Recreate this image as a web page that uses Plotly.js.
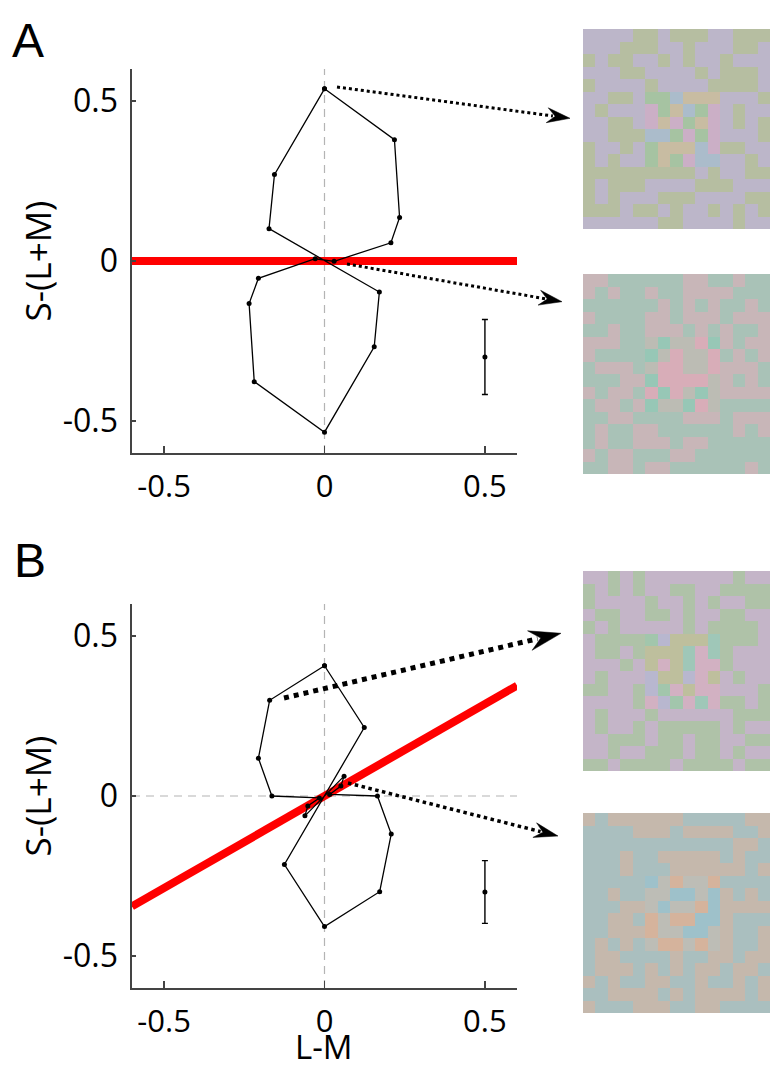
<!DOCTYPE html>
<html><head><meta charset="utf-8">
<script src="https://cdn.plot.ly/plotly-3.0.1.min.js"></script>
<style>html,body{margin:0;padding:0;background:#fff}</style>
</head><body><div id="chart" style="width:770px;height:1070px"></div>
<script>
// ---------- data ----------
const loopA_LM = [0, 0.218, 0.234, 0.207, 0.030, -0.029, -0.206, -0.235, -0.219, 0, 0.155, 0.171, -0.173, -0.156, 0];
const loopA_S  = [0.538, 0.379, 0.136, 0.057, -0.001, 0.007, -0.054, -0.133, -0.377, -0.535, -0.268, -0.097, 0.101, 0.270, 0.538];
const loopB_LM = [0, 0.124, -0.125, 0, 0.172, 0.208, 0.165, 0.016, 0.051, 0.061, -0.061, -0.052, -0.016, -0.164, -0.206, -0.171, 0];
const loopB_S  = [0.407, 0.214, -0.214, -0.408, -0.299, -0.119, 0, 0.005, 0.031, 0.062, -0.062, -0.031, -0.006, 0, 0.118, 0.299, 0.407];
const errA_x = [0.5], errA_y = [-0.30], errA_e = [0.117];
const errB_x = [0.5], errB_y = [-0.30], errB_e = [0.098];
const redA_x = [-0.6, 0.6], redA_y = [0, 0];
const redB_x = [-0.6, 0.6], redB_y = [-0.345, 0.345];
const zeroSpan = [-0.6, 0.6], zeroPair = [0, 0];
const tickVals = [-0.5, 0, 0.5];
const tickText = ['-0.5', '0', '0.5'];
const xTitle = 'L-M', yTitle = 'S-(L+M)';

const patchA1 = ["PPPPGGPGGGPPGGG","PPPGGGPPGPPPGGP","GPGGPPGPGPPGPPP","PPPGGPPPPGPGGGP",
"GPPPPGPPPPGGGGP","PPGGPggbtttPPPG","PGPPPpgtbgpPGPP","PPGGPptpgtpPGPG","PPGGGbbgpgpPPPG",
"GPPGPgtttbpGGPP","GPGPPgtgpbbPPGP","GGGGGGGGGPGPPGG","GPGGGPPPPGGGPPP","GPGPPPGGGPPPPGG",
"GGGPGGPGPPGPGPG","PPPPPPGGPPPPGPP"];
const palA1 = {P:'#bcb6c9', G:'#b6bea1', g:'#a6c3a2', b:'#abbccb', t:'#c8bca2', p:'#cbafc6'};
const patchA2 = ["RRTTTTTTRRTTRTT","RTRTTRTTRRRRTTT","TTTTTTRTRTRTTRT","RTTTTRRTRRRTRRR",
"TTRTTRRRTRTRTTR","RRRTTsqsskqRTRR","RTTTTqsksskTRTR","TRRRTskksskRRRT","TTTRRqkkkksRTRT",
"RTRRTkqksqsRRRR","TRRTRqssqksTTTT","TTRRTTTTRRRTRRR","TRTTRRTTTTTTRTR","TRTTRRRTRRTTTTT",
"RTRRTTTRRTTTTTT","TTRRTRRTTTTTTRT"];
const palA2 = {R:'#c8b6b8', T:'#a9c2b7', s:'#bcbcb4', q:'#97c7b6', k:'#d8adb8'};
const patchB1 = ["MMVMVMMMMMMMVMM","VMVMVMMVVMMVVVV","VMMMMVMMVMVMMVV","MVVMMVVMVMMVVMM",
"VMVMMMMMVMVVVVM","MVVVVgloootVVVM","MVVMVoootptVMMM","MMMVMopotppVMMM","MVMMMloolpoMVMM",
"VVMMVlgpoppMMMV","MMMMVplgptpVVMV","MVMMMVMMMMMMVVV","MVMMVMVVVVVMVMM","MMVVVMVVMVVMMVV",
"MMVMMVVVMVVMVMM","VVMVVVVMVVVVMVV"];
const palB1 = {M:'#c4b5c8', V:'#afc2a8', g:'#a2c6ac', l:'#b8b7cf', o:'#bebf9d', p:'#d2b1c2', t:'#9fc7b8'};
const patchB2 = ["NKNNNNNNKKKKKNN","KKKKNNNKNNNNKKN","KKKKKKKKKKKKNNK","KKKNKKNNNNNKNKK",
"KKKNKKKNNNNNNKN","KKKKKcsossoKKKK","KKNKKssccscNKNK","KKKNNscssocNNNN","KKNNKosooccNKKK",
"KKNNNossccsNKKN","KNKNKsoososNKKN","KNNKKKKNKKNNKNN","KNNNKNKNKNNKNNK","NKNKKNNKKNKKNKN",
"KKNNNNKNKNNNNKN","NKKKNNNKKNNKKKK"];
const palB2 = {K:'#aabfbf', N:'#c5b8ac', c:'#9ec1ca', s:'#bdbdb6', o:'#d5b39c'};

// ---------- helpers ----------
const W = 770, H = 1070;
const PX = x => x / W, PY = y => 1 - y / H;

function patchTrace(grid, pal, xa, ya) {
  const keys = Object.keys(pal);
  const z = grid.map(r => r.split('').map(c => keys.indexOf(c)));
  const n = keys.length;
  const cs = keys.map((k, i) => [i / (n - 1), pal[k]]);
  return {type:'heatmap', z:z, colorscale:cs, zmin:0, zmax:n-1, showscale:false,
          xaxis:xa, yaxis:ya, hoverinfo:'skip'};
}

function arrowShapes(sx, sy, tx, ty, L, hw, lw) {
  const dx = tx - sx, dy = ty - sy, len = Math.hypot(dx, dy);
  const ux = dx / len, uy = dy / len, nx = -uy, ny = ux;
  const ex = tx - 0.75 * L * ux, ey = ty - 0.75 * L * uy;
  const b1x = tx - L * ux + hw * nx, b1y = ty - L * uy + hw * ny;
  const b2x = tx - L * ux - hw * nx, b2y = ty - L * uy - hw * ny;
  const nx2 = tx - 0.65 * L * ux, ny2 = ty - 0.65 * L * uy;
  return [
    {type:'line', xref:'paper', yref:'paper', x0:PX(sx), y0:PY(sy), x1:PX(ex), y1:PY(ey),
     line:{color:'#000', width:lw, dash:'dot'}},
    {type:'path', xref:'paper', yref:'paper',
     path:`M${PX(tx)},${PY(ty)} L${PX(b1x)},${PY(b1y)} L${PX(nx2)},${PY(ny2)} L${PX(b2x)},${PY(b2y)} Z`,
     fillcolor:'#000', line:{color:'#000', width:0.5}}
  ];
}

const black = '#000';
function loopTrace(x, y, xa, ya) {
  return {type:'scatter', mode:'lines+markers', x:x, y:y, xaxis:xa, yaxis:ya,
          line:{color:black, width:1.3}, marker:{color:black, size:5}, hoverinfo:'skip'};
}
function errTrace(x, y, e, xa, ya) {
  return {type:'scatter', mode:'markers', x:x, y:y, xaxis:xa, yaxis:ya,
          marker:{color:black, size:5},
          error_y:{type:'data', array:e, visible:true, color:black, thickness:1.4, width:3}, hoverinfo:'skip'};
}
function lineTrace(x, y, xa, ya, color, width, dash) {
  return {type:'scatter', mode:'lines', x:x, y:y, xaxis:xa, yaxis:ya,
          line:{color:color, width:width, dash:dash || 'solid'}, hoverinfo:'skip'};
}

const gray = '#b4b4b4';
const traces = [
  lineTrace(zeroPair, zeroSpan, 'x', 'y', gray, 1.2, '8px,6px'),
  lineTrace(zeroSpan, zeroPair, 'x', 'y', gray, 1.2, '8px,6px'),
  lineTrace(redA_x, redA_y, 'x', 'y', '#ff0000', 8),
  loopTrace(loopA_LM, loopA_S, 'x', 'y'),
  errTrace(errA_x, errA_y, errA_e, 'x', 'y'),
  lineTrace(zeroPair, zeroSpan, 'x2', 'y2', gray, 1.2, '8px,6px'),
  lineTrace(zeroSpan, zeroPair, 'x2', 'y2', gray, 1.2, '8px,6px'),
  lineTrace(redB_x, redB_y, 'x2', 'y2', '#ff0000', 8),
  loopTrace(loopB_LM, loopB_S, 'x2', 'y2'),
  errTrace(errB_x, errB_y, errB_e, 'x2', 'y2'),
  patchTrace(patchA1, palA1, 'x3', 'y3'),
  patchTrace(patchA2, palA2, 'x4', 'y4'),
  patchTrace(patchB1, palB1, 'x5', 'y5'),
  patchTrace(patchB2, palB2, 'x6', 'y6')
];

const font = {family:'Open Sans, sans-serif', color:'#000'};
const xDom = [PX(132), PX(517)];
function xAxis(anchor) {
  return {domain:xDom, anchor:anchor, range:[-0.6, 0.6], tickvals:tickVals, ticktext:tickText,
    ticks:'inside', ticklen:7, tickwidth:1.3, tickcolor:'#444', showline:true, linecolor:'#444', linewidth:1.6,
    showgrid:false, zeroline:false, automargin:false, ticklabelstandoff:5,
    tickfont:{family:font.family, size:31, color:'#000'}};
}
function yAxis(anchor, dom) {
  return {domain:dom, anchor:anchor, range:[-0.6, 0.6], tickvals:tickVals, ticktext:tickText,
    ticks:'inside', ticklen:4, tickwidth:1.3, tickcolor:'#444', showline:true, linecolor:'#444', linewidth:1.6,
    showgrid:false, zeroline:false, automargin:false, ticklabelstandoff:6,
    tickfont:{family:font.family, size:32, color:'#000'},
    title:{text:yTitle, font:{family:font.family, size:35, color:'#000'}}};
}
function hiddenX(anchor) {
  return {domain:[PX(583), 1], anchor:anchor, range:[-0.5, 14.5], visible:false, fixedrange:true};
}
function hiddenY(anchor, top, bottom) {
  return {domain:[PY(bottom), PY(top)], anchor:anchor, range:[15.5, -0.5], visible:false, fixedrange:true};
}

const shapes = [].concat(
  arrowShapes(337, 87, 570, 118.3, 23, 7.5, 3),
  arrowShapes(347, 264, 562, 301.7, 23, 7.5, 3),
  arrowShapes(284, 698, 561, 633.3, 32, 10, 5),
  arrowShapes(348, 783, 558, 836, 24, 7.5, 3.5)
);

const layout = {
  width:W, height:H, margin:{l:0, r:0, t:0, b:0}, paper_bgcolor:'#fff', plot_bgcolor:'rgba(0,0,0,0)',
  showlegend:false, font:font,
  xaxis:xAxis('y'), yaxis:yAxis('x', [PY(453), PY(69)]),
  xaxis2:xAxis('y2'), yaxis2:yAxis('x2', [PY(988), PY(604)]),
  xaxis3:hiddenX('y3'), yaxis3:hiddenY('x3', 29, 229),
  xaxis4:hiddenX('y4'), yaxis4:hiddenY('x4', 274, 474),
  xaxis5:hiddenX('y5'), yaxis5:hiddenY('x5', 571, 771),
  xaxis6:hiddenX('y6'), yaxis6:hiddenY('x6', 813, 1013),
  shapes:shapes,
  annotations:[
    {text:'A', xref:'paper', yref:'paper', x:PX(10), y:PY(12), xanchor:'left', yanchor:'top', showarrow:false,
     font:{family:'Liberation Sans, Arial, sans-serif', size:48, color:'#000'}},
    {text:'B', xref:'paper', yref:'paper', x:PX(12), y:PY(532), xanchor:'left', yanchor:'top', showarrow:false,
     font:{family:'Liberation Sans, Arial, sans-serif', size:48, color:'#000'}},
    {text:xTitle, xref:'paper', yref:'paper', x:PX(324), y:0, xanchor:'center', yanchor:'bottom', showarrow:false,
     borderpad:0, font:{family:font.family, size:33, color:'#000'}}
  ]
};

Plotly.newPlot('chart', traces, layout, {staticPlot:true, displayModeBar:false});
</script></body></html>
